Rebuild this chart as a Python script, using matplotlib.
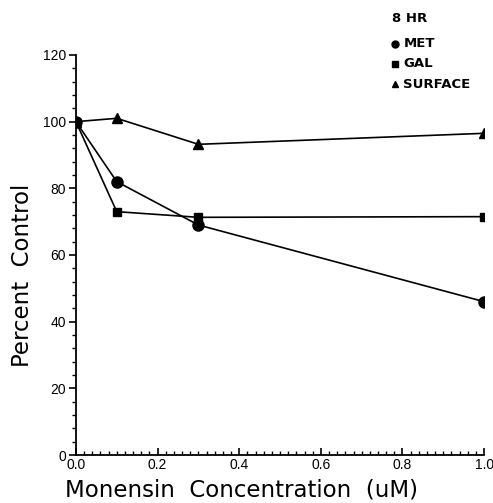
import numpy as np
import matplotlib.pyplot as plt
from matplotlib.ticker import MultipleLocator, FormatStrFormatter

# data
conc = [0.0, 0.1, 0.3, 1.0]
met = [100, 82, 69, 46]
gal = [100, 73, 71.3, 71.5]
surface = [100, 101, 93.2, 96.5]

plt.rcParams['font.family'] = ['Liberation Sans', 'DejaVu Sans']

fig = plt.figure(figsize=(4.93, 5.03), dpi=100)
ax = fig.add_axes([0.154, 0.0954, 0.828, 0.7953])

lw = 1.2
ax.plot(conc, surface, '-^', color='black', lw=lw, ms=7, label='SURFACE', zorder=3)
ax.plot(conc, gal, '-s', color='black', lw=lw, ms=6, label='GAL', zorder=3)
ax.plot(conc, met, '-o', color='black', lw=lw, ms=8, label='MET', zorder=3)

ax.set_xlim(0, 1.0)
ax.set_ylim(0, 120)
ax.spines['top'].set_visible(False)
ax.spines['right'].set_visible(False)
ax.spines['left'].set_linewidth(1.3)
ax.spines['bottom'].set_linewidth(1.3)

ax.xaxis.set_major_locator(MultipleLocator(0.2))
ax.xaxis.set_minor_locator(MultipleLocator(0.02))
ax.xaxis.set_major_formatter(FormatStrFormatter('%.1f'))
ax.yaxis.set_major_locator(MultipleLocator(20))
ax.yaxis.set_minor_locator(MultipleLocator(4))

ax.tick_params(axis='y', which='major', direction='out', length=5, width=1.2, labelsize=10, pad=2)
ax.tick_params(axis='y', which='minor', direction='out', length=3, width=1.0)
ax.tick_params(axis='x', which='major', direction='in', length=5, width=1.2, labelsize=10, pad=2)
ax.tick_params(axis='x', which='minor', direction='in', length=3, width=1.0)

ax.set_xlabel('Monensin  Concentration  (uM)', fontsize=16.5, family='DejaVu Sans')
ax.xaxis.set_label_coords(0.405, -0.103)
ax.xaxis.label.set_verticalalignment('baseline')
ax.set_ylabel('Percent  Control', fontsize=16.5, family='DejaVu Sans')
ax.yaxis.set_label_coords(-0.13, 0.45)
ax.yaxis.label.set_verticalalignment('center')

# legend in top right corner
fig.text(0.795, 0.963, '8 HR', fontsize=9.5, fontweight='bold', va='center', family='DejaVu Sans')
leg_items = [('o', 'MET', 5), ('s', 'GAL', 4), ('^', 'SURFACE', 4)]
ys = [0.913, 0.873, 0.833]
for (m, txt, ms), yy in zip(leg_items, ys):
    fig.lines.append(plt.Line2D([0.802], [yy], marker=m, color='black', ms=ms,
                                transform=fig.transFigure, linestyle='none'))
    fig.text(0.818, yy, txt, fontsize=9.5, fontweight='bold', va='center', family='DejaVu Sans')

fig.savefig('out.png', dpi=100)
